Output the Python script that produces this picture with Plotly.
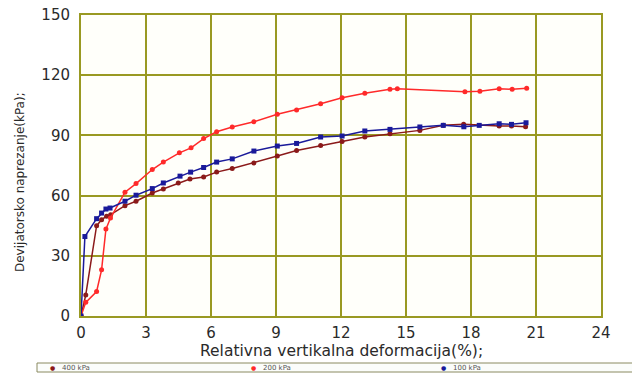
import plotly.graph_objects as go

# 400 kPa
x400 = [0, 0.22, 0.72, 0.95, 1.18, 1.37, 2.03, 2.54, 3.29, 3.8, 4.49, 5.03, 5.66, 6.26, 6.98, 7.98,
        9.06, 9.95, 11.06, 12.05, 13.1, 14.26, 15.64, 16.72, 17.66, 19.3, 19.87, 20.52]
y400 = [0, 10.5, 45, 48, 49.7, 50.5, 55, 57.2, 61.3, 63.3, 66.3, 68.3, 69.3, 71.7, 73.5, 76.3,
        79.7, 82.5, 85, 87, 89.2, 90.8, 92.5, 95, 95.5, 94.7, 94.7, 94.3]

# 200 kPa
x200 = [0, 0.22, 0.72, 0.95, 1.15, 1.36, 2.03, 2.54, 3.29, 3.8, 4.54, 5.08, 5.66, 6.26, 6.98, 7.98,
        9.06, 9.95, 11.06, 12.05, 13.1, 14.26, 14.6, 17.72, 18.41, 19.3, 19.9, 20.57]
y200 = [0, 6.8, 12.2, 23, 43.3, 48.8, 61.7, 66, 73, 76.7, 81.3, 83.8, 88.4, 91.8, 94.2, 96.8,
        100.5, 102.7, 105.8, 108.8, 111, 113, 113.3, 111.7, 112, 113.3, 113, 113.5]

# 100 kPa
x100 = [0, 0.18, 0.72, 0.95, 1.15, 1.34, 2.03, 2.54, 3.29, 3.8, 4.57, 5.06, 5.66, 6.26, 6.98, 7.98,
        9.06, 9.95, 11.06, 12.05, 13.1, 14.26, 15.64, 16.72, 17.67, 18.38, 19.3, 19.87, 20.54]
y100 = [0, 39.6, 48.5, 51.3, 53.3, 53.8, 57.2, 60.2, 63.5, 66.3, 69.7, 71.7, 74, 76.7, 78.3, 82.2,
        84.7, 86, 89.2, 89.7, 92.2, 93, 94.2, 95, 94.3, 95, 95.8, 95.5, 96.3]

series_names = ["400 kPa", "200 kPa", "100 kPa"]
x_ticks = [0, 3, 6, 9, 12, 15, 18, 21, 24]
y_ticks = [0, 30, 60, 90, 120, 150]

colors = ["#8b1a1a", "#ff2a2a", "#1a1a9a"]
symbols = ["circle", "circle", "square"]
grid = "#999922"
txt = "#2a2a2a"

W, H = 632, 374
L, R, T, B = 81, 31, 15, 58
PW, PH = W - L - R, H - T - B


def px(xp):
    return (xp - L) / PW


def py(yp):
    return (H - B - yp) / PH


fig = go.Figure()
for name, xs, ys, c, s in zip(series_names, [x400, x200, x100], [y400, y200, y100], colors, symbols):
    fig.add_trace(go.Scatter(x=xs, y=ys, mode="lines+markers", name=name,
                             line=dict(color=c, width=1.5),
                             marker=dict(color=c, size=5, symbol=s),
                             showlegend=False))

# compact legend strip at the bottom (box + entries)
shapes = [dict(type="rect", xref="paper", yref="paper",
               x0=px(37), x1=px(640), y0=py(372), y1=py(363),
               line=dict(color="#8a8a60", width=1), fillcolor="#fbfdfb", layer="above")]
annotations = [
    dict(text="Devijatorsko naprezanje(kPa);", xref="paper", yref="paper",
         x=px(20), y=py(182), textangle=-90,
         showarrow=False, font=dict(size=12, color=txt),
         xanchor="center", yanchor="middle"),
    dict(text="Relativna vertikalna deformacija(%);", xref="paper", yref="paper",
         x=0.5, y=py(351), showarrow=False,
         font=dict(size=15.5, color=txt), xanchor="center", yanchor="middle"),
]
legend_x = [52, 253, 443]
for name, c, lx in zip(series_names, colors, legend_x):
    annotations.append(dict(text="●", xref="paper", yref="paper", x=px(lx), y=py(367.5),
                            showarrow=False, font=dict(size=6, color=c),
                            xanchor="center", yanchor="middle"))
    annotations.append(dict(text=name, xref="paper", yref="paper", x=px(lx + 8), y=py(367.5),
                            showarrow=False, font=dict(size=7, color="#555555"),
                            xanchor="left", yanchor="middle"))

fig.update_layout(
    width=W, height=H,
    margin=dict(l=L, r=R, t=T, b=B, autoexpand=False),
    paper_bgcolor="white",
    plot_bgcolor="#fffffa",
    font=dict(family="DejaVu Sans", color=txt),
    showlegend=False,
    shapes=shapes,
    annotations=annotations,
)
fig.update_xaxes(range=[0, 24], tickvals=x_ticks, ticktext=[str(v) for v in x_ticks],
                 showgrid=True, gridcolor=grid, gridwidth=2,
                 showline=True, linecolor=grid, linewidth=2, mirror=True,
                 zeroline=False, ticks="outside", ticklen=2, tickcolor="rgba(0,0,0,0)",
                 tickfont=dict(size=15, color=txt))
fig.update_yaxes(range=[0, 150], tickvals=y_ticks, ticktext=[str(v) for v in y_ticks],
                 showgrid=True, gridcolor=grid, gridwidth=2,
                 showline=True, linecolor=grid, linewidth=2, mirror=True,
                 zeroline=False, ticks="outside", ticklen=6, tickcolor="rgba(0,0,0,0)",
                 tickfont=dict(size=15, color=txt))

fig.write_html("out.html", config={"displayModeBar": False},
               post_script="document.body.style.margin='0px';")
